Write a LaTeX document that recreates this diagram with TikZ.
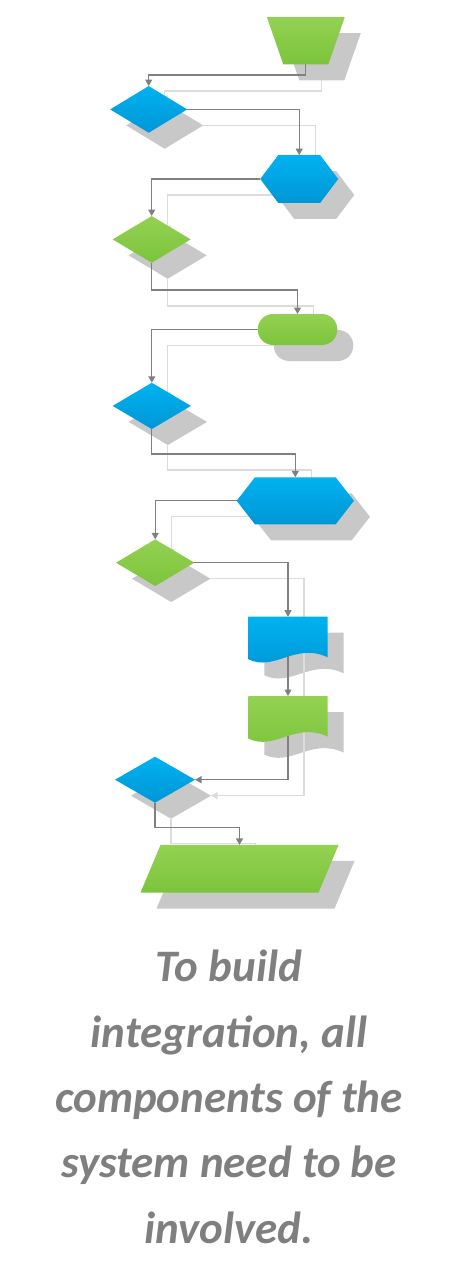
\documentclass[tikz,border=0pt]{standalone}
\usepackage{fontspec}
\setmainfont{Carlito}
\usetikzlibrary{arrows.meta,calc}
\definecolor{bluetop}{HTML}{00B2F0}
\definecolor{bluebot}{HTML}{0096D6}
\definecolor{greentop}{HTML}{94D152}
\definecolor{greenbot}{HTML}{7CC43C}
\definecolor{shadowgray}{HTML}{C8C8C8}
\definecolor{shadowline}{HTML}{DCDCDC}
\definecolor{linegray}{HTML}{808080}
\definecolor{textgray}{HTML}{7F7F7F}
\pgfdeclarelayer{sh}\pgfdeclarelayer{shl}\pgfdeclarelayer{ml}
\pgfsetlayers{sh,shl,ml,main}
\tikzset{
  slot/.style={rectangle, inner sep=0pt, outer sep=0pt, draw=none, fill=none},
  blueshape/.style={top color=bluetop, bottom color=bluebot, draw=none},
  greenshape/.style={top color=greentop, bottom color=greenbot, draw=none},
  shadowshape/.style={fill=shadowgray, draw=none},
  conn/.style={draw=linegray, line width=1.3pt, -{Triangle[width=7pt,length=6.5pt]}},
  shconn/.style={draw=shadowline, line width=1.3pt, -{Triangle[width=7pt,length=6.5pt]}},
  caption/.style={font=\fontsize{45}{65.4}\selectfont\bfseries\itshape, text=textgray, align=center, inner sep=0pt},
}
% single shapes: x y w h ... style
\newcommand\diamondat[5]{\path[#5] ({#1-#3/2},{#2}) -- ({#1},{#2-#4/2}) -- ({#1+#3/2},{#2}) -- ({#1},{#2+#4/2}) -- cycle;}
\newcommand\hexat[6]{\path[#6] ({#1-#3/2},{#2}) -- ({#1-#3/2+#5},{#2-#4/2}) -- ({#1+#3/2-#5},{#2-#4/2}) -- ({#1+#3/2},{#2}) -- ({#1+#3/2-#5},{#2+#4/2}) -- ({#1-#3/2+#5},{#2+#4/2}) -- cycle;}
\newcommand\trapat[6]{\path[#6] ({#1-#3/2},{#2-#5/2}) -- ({#1+#3/2},{#2-#5/2}) -- ({#1+#4/2},{#2+#5/2}) -- ({#1-#4/2},{#2+#5/2}) -- cycle;}
\newcommand\termat[5]{\path[#5, rounded corners=15.4pt] ({#1-#3/2},{#2-#4/2}) rectangle ({#1+#3/2},{#2+#4/2});}
\newcommand\docat[4]{\path[#4] ({#1-#3/2},{#2}) -- ({#1+#3/2},{#2}) -- ({#1+#3/2},{#2+40.6}) .. controls ({#1+7},{#2+25.3}) and ({#1-13},{#2+55.3}) .. ({#1-#3/2},{#2+42.6}) -- cycle;}
\newcommand\paraat[6]{\path[#6] ({#1-#3/2+#5},{#2-#4/2}) -- ({#1+#3/2+#5},{#2-#4/2}) -- ({#1+#3/2-#5},{#2+#4/2}) -- ({#1-#3/2-#5},{#2+#4/2}) -- cycle;}
% pairs (shadow + main) with named slots
\newcommand\mkdiamond[6]{%
  \begin{pgfonlayer}{sh}\diamondat{#2+16}{#3+16}{#4}{#5}{shadowshape}
  \node[slot, minimum width=#4pt, minimum height=#5pt] (#1s) at ({#2+16},{#3+16}) {};\end{pgfonlayer}
  \diamondat{#2}{#3}{#4}{#5}{#6}
  \node[slot, minimum width=#4pt, minimum height=#5pt] (#1) at ({#2},{#3}) {};}
\newcommand\mkhex[7]{%
  \begin{pgfonlayer}{sh}\hexat{#2+16}{#3+16}{#4}{#5}{#6}{shadowshape}
  \node[slot, minimum width=#4pt, minimum height=#5pt] (#1s) at ({#2+16},{#3+16}) {};\end{pgfonlayer}
  \hexat{#2}{#3}{#4}{#5}{#6}{#7}
  \node[slot, minimum width=#4pt, minimum height=#5pt] (#1) at ({#2},{#3}) {};}
\newcommand\mktrap[7]{%
  \begin{pgfonlayer}{sh}\trapat{#2+16}{#3+16}{#4}{#5}{#6}{shadowshape}
  \node[slot, minimum width=#4pt, minimum height=#6pt] (#1s) at ({#2+16},{#3+16}) {};\end{pgfonlayer}
  \trapat{#2}{#3}{#4}{#5}{#6}{#7}
  \node[slot, minimum width=#4pt, minimum height=#6pt] (#1) at ({#2},{#3}) {};}
\newcommand\mkterm[6]{%
  \begin{pgfonlayer}{sh}\termat{#2+16}{#3+16}{#4}{#5}{shadowshape}
  \node[slot, minimum width=#4pt, minimum height=#5pt] (#1s) at ({#2+16},{#3+16}) {};\end{pgfonlayer}
  \termat{#2}{#3}{#4}{#5}{#6}
  \node[slot, minimum width=#4pt, minimum height=#5pt] (#1) at ({#2},{#3}) {};}
\newcommand\mkdoc[5]{%
  \begin{pgfonlayer}{sh}\docat{#2+16}{#3+16}{#4}{shadowshape}
  \node[slot, minimum width=#4pt, minimum height=47pt] (#1s) at ({#2+16},{#3+16+23.5}) {};\end{pgfonlayer}
  \docat{#2}{#3}{#4}{#5}
  \node[slot, minimum width=#4pt, minimum height=47pt] (#1) at ({#2},{#3+23.5}) {};}
\newcommand\mkpara[7]{%
  \begin{pgfonlayer}{sh}\paraat{#2+16}{#3+16}{#4}{#5}{#6}{shadowshape}
  \node[slot, minimum width=#4pt, minimum height=#5pt] (#1s) at ({#2+16},{#3+16}) {};\end{pgfonlayer}
  \paraat{#2}{#3}{#4}{#5}{#6}{#7}
  \node[slot, minimum width=#4pt, minimum height=#5pt] (#1) at ({#2},{#3}) {};}
% connectors: #1 suffix, #2 style
\newcommand\links[2]{%
  \draw[#2] (t#1.south) -- ($(t#1.south)+(0,10.7)$) -| (d1#1.north);
  \draw[#2] (d1#1.east) -| (h1#1.north);
  \draw[#2] (h1#1.west) -| (d2#1.north);
  \draw[#2] (d2#1.south) -- ($(d2#1.south)+(0,27.3)$) -| (term#1.north);
  \draw[#2] (term#1.west) -| (d3#1.north);
  \draw[#2] (d3#1.south) -- ($(d3#1.south)+(0,25)$) -| (h2#1.north);
  \draw[#2] (h2#1.west) -| (d4#1.north);
  \draw[#2] (d4#1.east) -| (doc1#1.north);
  \draw[#2] (doc1#1.north) -- (doc2#1.north);
  \draw[#2] (doc2#1.north) |- (d5#1.east);
  \draw[#2] (d5#1.south) -- ($(d5#1.south)+(0,25)$) -| (para#1.north);}
\begin{document}
\begin{tikzpicture}[x=1pt, y=-1pt]
\useasboundingbox (0,0) rectangle (452,1265);
\mktrap{t}{305.8}{40.7}{78}{45}{47.3}{greenshape}
\mkdiamond{d1}{148.7}{109.4}{77}{46.7}{blueshape}
\mkhex{h1}{299.2}{179}{78}{47.7}{18}{blueshape}
\mkdiamond{d2}{151.7}{239.4}{78}{46.7}{greenshape}
\mkterm{term}{297.5}{329.5}{79.6}{31}{greenshape}
\mkdiamond{d3}{151.8}{405.9}{78.3}{46.3}{blueshape}
\mkhex{h2}{295.3}{500.8}{117.3}{47}{18.3}{blueshape}
\mkdiamond{d4}{155.2}{562.7}{78.3}{46.7}{greenshape}
\mkdoc{doc1}{288}{616.7}{79.4}{blueshape}
\mkdoc{doc2}{288}{696}{79.4}{greenshape}
\mkdiamond{d5}{155}{779.7}{80}{46}{blueshape}
\mkpara{para}{239.5}{868.8}{178}{47.7}{10}{greenshape}
\begin{pgfonlayer}{shl}\links{s}{shconn}\end{pgfonlayer}
\begin{pgfonlayer}{ml}\links{}{conn}\end{pgfonlayer}
\node[caption, anchor=base] (cap) at (229,1243.3) {To build\\integration, all\\components of the\\system need to be\\involved.};
\end{tikzpicture}
\end{document}
